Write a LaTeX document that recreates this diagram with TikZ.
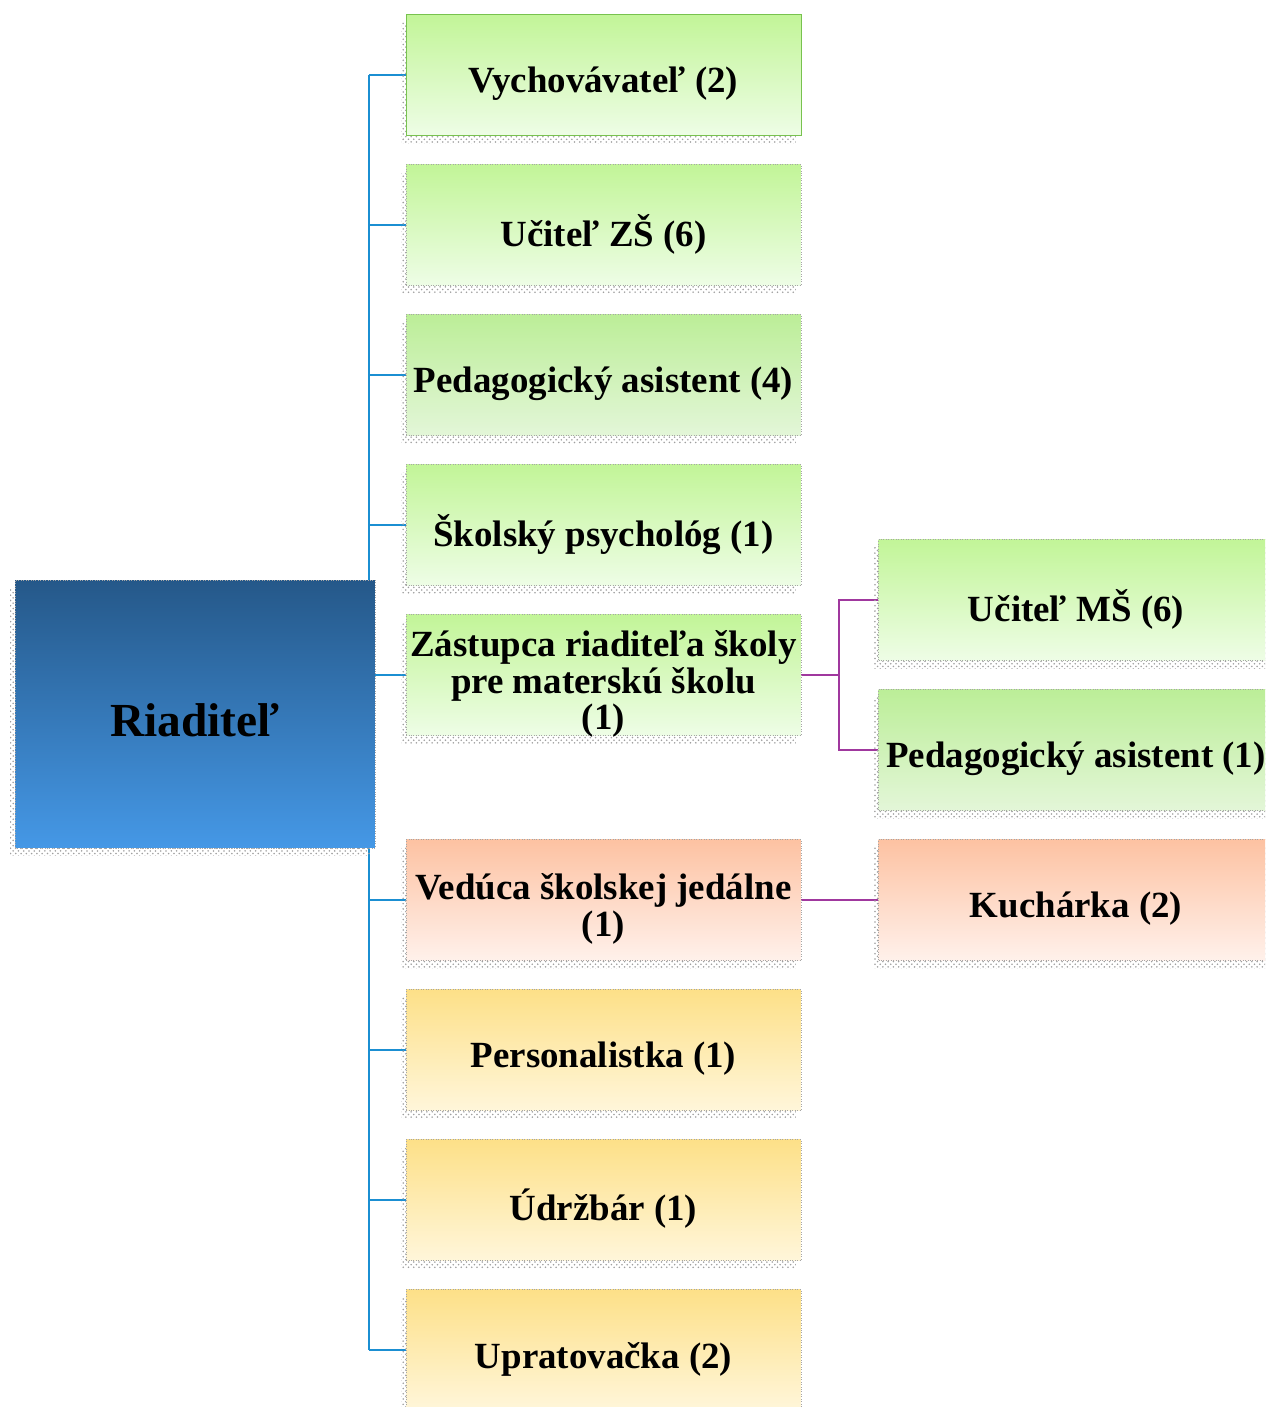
\documentclass[tikz,border=0pt]{standalone}
\usepackage{fontspec}
\setmainfont{Liberation Serif}
\usepackage{tikz}
\usetikzlibrary{positioning,
                shadows,
                patterns,
                backgrounds, calc}

\definecolor{headtop}{HTML}{255889}
\definecolor{headbot}{HTML}{4598E6}
\definecolor{greentop}{HTML}{C2F598}
\definecolor{greenbot}{HTML}{EEFDE6}
\definecolor{greendark}{HTML}{BCEE98}
\definecolor{greendbot}{HTML}{E3F6D8}
\definecolor{peachtop}{HTML}{FDC2A2}
\definecolor{peachbot}{HTML}{FFF1EB}
\definecolor{yellowtop}{HTML}{FDE088}
\definecolor{yellowbot}{HTML}{FFF6DA}
\definecolor{trunkblue}{HTML}{1B8FD2}
\definecolor{forkpurple}{HTML}{A0389E}
\definecolor{edgegreen}{HTML}{78C24F}

% text set a little below the middle of its box
\newcommand{\droptext}[2][6pt]{\raisebox{-#1}[\height][\depth]{\begin{tabular}{@{}c@{}}#2\end{tabular}}}

\begin{document}
\begin{tikzpicture}[x=0.02cm, y=-0.02cm,
    role/.style={draw=gray!70, densely dotted, minimum width=7.9cm, minimum height=2.42cm,
                 inner sep=2pt, text=black,
                 font=\bfseries\fontsize{21}{20.5}\selectfont,
                 general shadow={shadow xshift=-0.1cm, shadow yshift=-0.16cm,
                                 pattern=crosshatch dots, pattern color=gray!75}},
    greenrole/.style={role, top color=greentop, bottom color=greenbot},
    darkrole/.style={role, top color=greendark, bottom color=greendbot},
    peachrole/.style={role, top color=peachtop, bottom color=peachbot},
    yellowrole/.style={role, top color=yellowtop, bottom color=yellowbot},
    bluelink/.style={trunkblue, line width=1.2pt},
    purplelink/.style={forkpurple, line width=1.2pt}]

    \useasboundingbox (0,0) rectangle (1265,1407);
    \clip (0,0) rectangle (1265,1407);

    % head
    \node[role, minimum width=7.2cm, minimum height=5.36cm,
          top color=headtop, bottom color=headbot,
          font=\bfseries\fontsize{27}{30}\selectfont] (riad) at (195,714) {\droptext[7pt]{Riaditeľ}};

    % middle column
    \node[greenrole, draw=edgegreen, solid] (vych) at (603.5,75) {\droptext{Vychovávateľ (2)}};
    \node[greenrole] (uczs) at (603.5,225) {\droptext{Učiteľ ZŠ (6)}};
    \node[darkrole] (pedas) at (603.5,375) {\droptext{Pedagogický asistent (4)}};
    \node[greenrole] (psych) at (603.5,525) {\droptext{Školský psychológ (1)}};
    \node[greenrole] (zast) at (603.5,675) {\droptext{Zástupca riaditeľa školy\\pre materskú školu\\(1)}};
    \node[peachrole] (ved) at (603.5,900) {\droptext{Vedúca školskej jedálne\\(1)}};
    \node[yellowrole] (pers) at (603.5,1050) {\droptext{Personalistka (1)}};
    \node[yellowrole] (udrz) at (603.5,1200) {\droptext{Údržbár (1)}};
    \node[yellowrole] (uprat) at (603.5,1350) {\droptext{Upratovačka (2)}};

    % right column
    \node[greenrole] (ucms) at (1076,600) {\droptext{Učiteľ MŠ (6)}};
    \node[darkrole] (pams) at (1076,750) {\droptext{Pedagogický asistent (1)}};
    \node[peachrole] (kuch) at (1076,900) {\droptext{Kuchárka (2)}};

    % connectors
    \begin{scope}[on background layer]
        \coordinate (trunk) at (369,0);
        \draw[bluelink] (trunk |- vych.west) -- (trunk |- uprat.west);
        \foreach \n in {vych, uczs, pedas, psych, zast, ved, pers, udrz, uprat}
            \draw[bluelink] (trunk |- \n.west) -- (\n.west);

        \draw[purplelink] (zast.east) -- ++(38,0) coordinate (fork) |- (ucms.west);
        \draw[purplelink] (fork) |- (pams.west);
        \draw[purplelink] (ved.east) -- (kuch.west);
    \end{scope}
\end{tikzpicture}
\end{document}
